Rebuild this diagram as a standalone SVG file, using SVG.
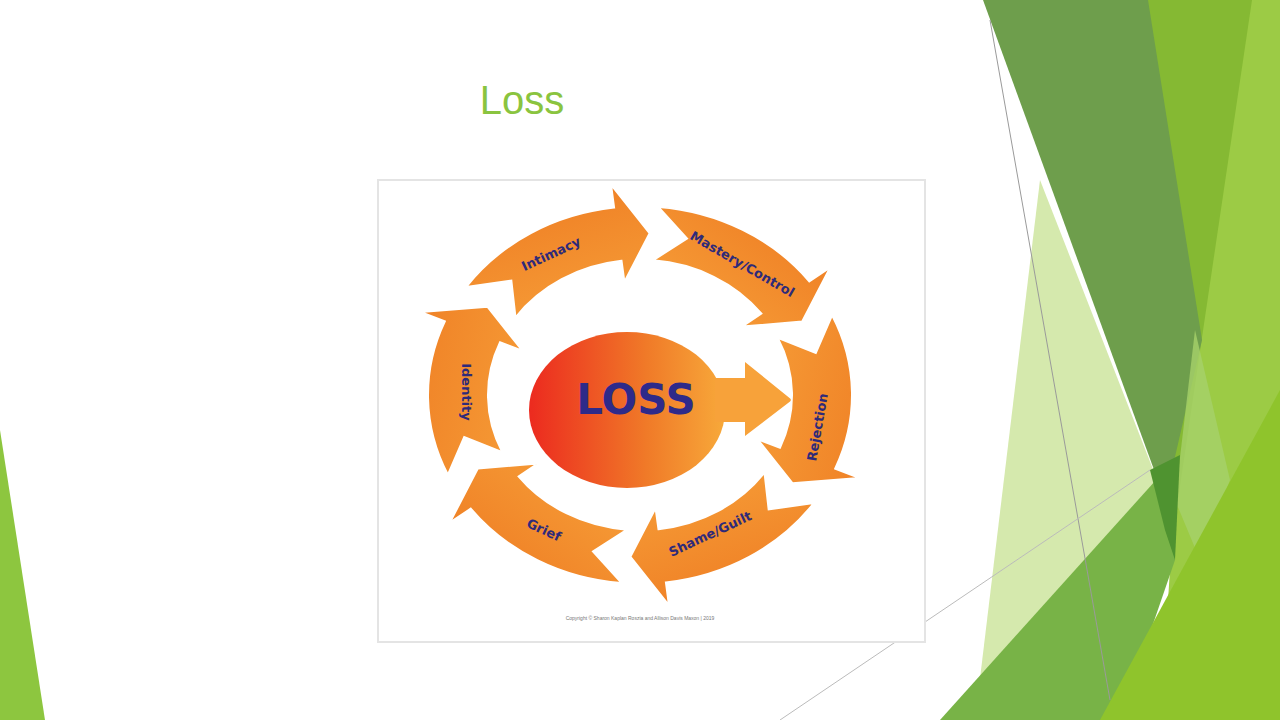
<svg xmlns="http://www.w3.org/2000/svg" width="1280" height="720" viewBox="0 0 1280 720">
<defs>
<style>
.arr{fill:url(#ag);stroke:#fff;stroke-width:2}
.lbl{font-family:"DejaVu Sans",sans-serif;font-weight:bold;font-size:13px;fill:#2e2a7a;text-anchor:middle}
</style>
<linearGradient id="ag" x1="0" y1="0" x2="1" y2="1"><stop offset="0" stop-color="#f7a23a"/><stop offset="1" stop-color="#ee7a22"/></linearGradient>
<linearGradient id="cg" x1="0" y1="0" x2="1" y2="0"><stop offset="0" stop-color="#ec2a1f"/><stop offset="0.6" stop-color="#f07a28"/><stop offset="1" stop-color="#f7a93a"/></linearGradient>
<path id="seg" class="arr" d="M212,0 A212,212 0 0 1 141.9,157.5 L159.2,176.9 L96.4,154.3 L85.6,95.1 L101.7,113 A152,152 0 0 0 152,0 L179.2,31.6 Z"/>
</defs>
<rect width="1280" height="720" fill="#fff"/>
<g id="background">
<polygon points="0,430 0,720 45,720" fill="#8dc63f"/>
<polygon points="1145,0 1280,0 1280,720 1165,560" fill="#85b933"/>
<polygon points="1252,0 1280,0 1280,720 1160,720 1172,540" fill="#9ccb45"/>
<polygon points="1040,180 1165,500 1120,560 1000,720 975,720" fill="#d5e9ad"/>
<polygon points="983,0 1148,0 1202,340 1165,500" fill="#6e9e4c"/>
<polygon points="1195,330 1230,480 1200,560 1175,500" fill="#a6d16a" opacity="0.8"/>
<polygon points="940,720 1120,720 1175,560 1165,470" fill="#78b347"/>
<polygon points="1150,470 1180,455 1175,560 1165,530" fill="#4f9330"/>
<polygon points="1100,720 1280,720 1280,390" fill="#8fc42c"/>
<line x1="990" y1="20" x2="1110" y2="700" stroke="#9a9a9a" stroke-width="1"/>
<line x1="780" y1="720" x2="1150" y2="470" stroke="#bbbbbb" stroke-width="1"/>
</g>
<text x="522" y="114" font-family="Liberation Sans, sans-serif" font-size="40" fill="#8ac43f" text-anchor="middle">Loss</text>
<g id="frame">
<rect x="378" y="180" width="547" height="462" fill="#fff" stroke="#e4e4e4" stroke-width="2"/>
</g>
<g id="loss">
<ellipse cx="627" cy="410" rx="98" ry="78" fill="url(#cg)"/>
<polygon points="715,378 745,378 745,362 792,400 745,436 745,422 715,422" fill="#f7a23a"/>
<text x="636" y="414" font-family="DejaVu Sans, sans-serif" font-weight="bold" font-size="42" fill="#2e2a8a" text-anchor="middle">LOSS</text>
</g>
<g id="connectors">
<g transform="translate(640,395) scale(1,0.89)">
<use href="#seg" transform="rotate(155)"/>
<use href="#seg" transform="rotate(215)"/>
<use href="#seg" transform="rotate(275)"/>
<use href="#seg" transform="rotate(335)"/>
<use href="#seg" transform="rotate(35)"/>
<use href="#seg" transform="rotate(95)"/>
</g>
<text class="lbl" transform="translate(462,392) rotate(90)">Identity</text>
<text class="lbl" transform="translate(553,258) rotate(-25)">Intimacy</text>
<text class="lbl" transform="translate(740,268) rotate(30)">Mastery/Control</text>
<text class="lbl" transform="translate(822,428) rotate(-80)">Rejection</text>
<text class="lbl" transform="translate(712,538) rotate(-25)">Shame/Guilt</text>
<text class="lbl" transform="translate(542,534) rotate(25)">Grief</text>
</g>
<text x="640" y="620" font-family="Liberation Sans, sans-serif" font-size="5" fill="#777" text-anchor="middle">Copyright © Sharon Kaplan Roszia and Allison Davis Maxon | 2019</text>
</svg>
